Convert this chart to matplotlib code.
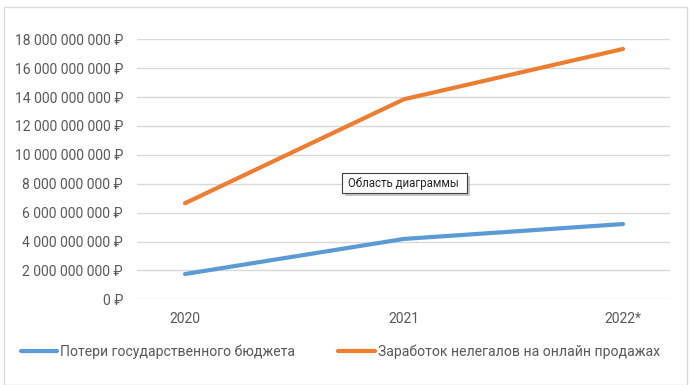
import matplotlib
matplotlib.use("Agg")
import matplotlib.pyplot as plt
from matplotlib.patches import Rectangle

plt.rcParams['font.family'] = ['Roboto', 'DejaVu Sans']

categories = ["2020", "2021", "2022*"]
budget_losses = [1.75e9, 4.18e9, 5.21e9]
illegal_income = [6.65e9, 13.85e9, 17.33e9]
series_names = ["Потери государственного бюджета", "Заработок нелегалов на онлайн продажах"]
y_ticks = [0, 2e9, 4e9, 6e9, 8e9, 10e9, 12e9, 14e9, 16e9, 18e9]

W, H = 693, 385
fig = plt.figure(figsize=(W / 100, H / 100), dpi=100)
ax = fig.add_axes([137 / W, 1 - 299.3 / H, (670 - 137) / W, (299.3 - 39.3) / H])

x = list(range(len(categories)))
l1, = ax.plot(x, budget_losses, color="#5B9BD5", lw=3, solid_capstyle="round", label=series_names[0])
l2, = ax.plot(x, illegal_income, color="#ED7D31", lw=3, solid_capstyle="round", label=series_names[1])

ax.set_xlim(-48 / 219, 2 + 47 / 219)
ax.set_ylim(0, 18e9)
ax.set_yticks(y_ticks)

def fmt(v):
    s = f"{int(round(v)):,}".replace(",", " ")
    return s + " ₽"

ax.set_yticklabels([fmt(v) for v in y_ticks])
ax.set_xticks(x)
ax.set_xticklabels(categories)
ax.tick_params(axis="both", length=0, colors="#595959", labelsize=10)
ax.tick_params(axis="y", pad=10)
ax.tick_params(axis="x", pad=9)
ax.grid(axis="y", color="#D9D9D9", lw=1)
ax.set_axisbelow(True)
for s in ax.spines.values():
    s.set_visible(False)

# chart border
fig.patches.append(Rectangle((4 / W, 0), (687 - 4) / W, 1 - 7 / H, transform=fig.transFigure,
                             fill=False, edgecolor="#D9D9D9", lw=1))

leg = fig.legend(handles=[l1, l2], loc="center left", bbox_to_anchor=(8 / W, 1 - 352 / H),
                 ncol=2, frameon=False, fontsize=10.1, handlelength=2.6, handletextpad=0.2,
                 columnspacing=3.1, labelcolor="#595959")

# tooltip
fig.patches.append(Rectangle((345 / W, 1 - 196 / H), 125 / W, 20 / H, transform=fig.transFigure,
                             facecolor="#A0A0A0", edgecolor="none", alpha=0.6))
fig.patches.append(Rectangle((342 / W, 1 - 193 / H), 125 / W, 20 / H, transform=fig.transFigure,
                             facecolor="white", edgecolor="#404040", lw=0.8))
fig.text(348 / W, 1 - 183 / H, "Область диаграммы", fontsize=8.3, color="#262626", va="center", ha="left")

fig.savefig("out.png", dpi=100)
